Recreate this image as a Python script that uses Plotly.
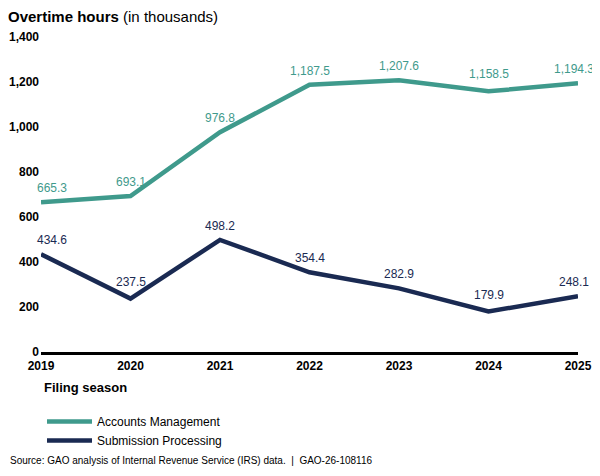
import plotly.graph_objects as go

years = [2019, 2020, 2021, 2022, 2023, 2024, 2025]
accounts_mgmt = [665.3, 693.1, 976.8, 1187.5, 1207.6, 1158.5, 1194.3]
submission_proc = [434.6, 237.5, 498.2, 354.4, 282.9, 179.9, 248.1]
y_ticks = [0, 200, 400, 600, 800, 1000, 1200, 1400]

TEAL = "#3f9a8c"
NAVY = "#1a2a52"
FONT = "Liberation Sans, Arial, sans-serif"

# page has an 8px body margin, so the figure is 592x468 and sits at (8, 8)
W, H = 592, 468
L, R, T, B = 33, 22, 29, 124
PH = H - T - B
PW = W - L - R

fig = go.Figure()
fig.add_trace(go.Scatter(x=years, y=accounts_mgmt, mode="lines", name="Accounts Management",
                         line=dict(color=TEAL, width=4.5), cliponaxis=False, hoverinfo="skip"))
fig.add_trace(go.Scatter(x=years, y=submission_proc, mode="lines", name="Submission Processing",
                         line=dict(color=NAVY, width=4.5), cliponaxis=False, hoverinfo="skip"))

for series, color in [(accounts_mgmt, TEAL), (submission_proc, NAVY)]:
    n = len(series)
    for i, (x, v) in enumerate(zip(years, series)):
        xs = 0
        if i == 0:
            xs = 11
        elif i == n - 1:
            xs = -4
        # local minimum: lift label a little more to clear the line
        is_min = (0 < i < n - 1) and series[i - 1] > v and series[i + 1] > v
        fig.add_annotation(x=x, y=v, text=f"{v:,.1f}", showarrow=False,
                           yshift=8 if is_min else 5, xshift=xs, yanchor="bottom",
                           font=dict(family=FONT, size=12, color=color))

fig.update_layout(
    width=W, height=H,
    margin=dict(l=L, r=R, t=T, b=B, autoexpand=False),
    paper_bgcolor="white", plot_bgcolor="white",
    font=dict(family=FONT, color="black"),
    title=dict(text="<b>Overtime hours</b> (in thousands)", x=0, xanchor="left",
               y=1 - 9 / H, yanchor="middle", font=dict(family=FONT, size=15, color="black")),
    showlegend=True,
    legend=dict(orientation="v", xref="container", x=34 / W, xanchor="left",
                yref="container", y=1 - 399 / H, yanchor="top",
                font=dict(family=FONT, size=12, color="black"), itemwidth=45,
                tracegroupgap=0, bgcolor="rgba(0,0,0,0)"),
    xaxis=dict(range=[2019, 2025], tickvals=years, ticktext=[str(y) for y in years],
               showgrid=False, zeroline=False, showline=True, linecolor="black", linewidth=3,
               ticks="", automargin=False, ticklabelstandoff=1,
               tickfont=dict(family=FONT, size=12, color="black", weight="bold")),
    yaxis=dict(range=[0, 1400], tickvals=y_ticks, ticktext=[f"{t:,}" for t in y_ticks],
               showgrid=False, zeroline=False, showline=False, ticks="", automargin=False,
               ticklabelstandoff=1,
               tickfont=dict(family=FONT, size=12, color="black", weight="bold")),
)

fig.add_annotation(text="<b>Filing season</b>", xref="x", yref="paper", x=years[0], xshift=1,
                   y=-(379 - (H - B)) / PH,
                   xanchor="left", yanchor="middle", showarrow=False,
                   font=dict(family=FONT, size=13, color="black"))
fig.add_annotation(text="Source: GAO analysis of Internal Revenue Service (IRS) data.  |  GAO-26-108116",
                   xref="paper", yref="paper", x=-L / PW, y=-(452 - (H - B)) / PH,
                   xanchor="left", yanchor="middle", showarrow=False,
                   font=dict(family=FONT, size=10, color="black"))

fig.write_html("out.html")
